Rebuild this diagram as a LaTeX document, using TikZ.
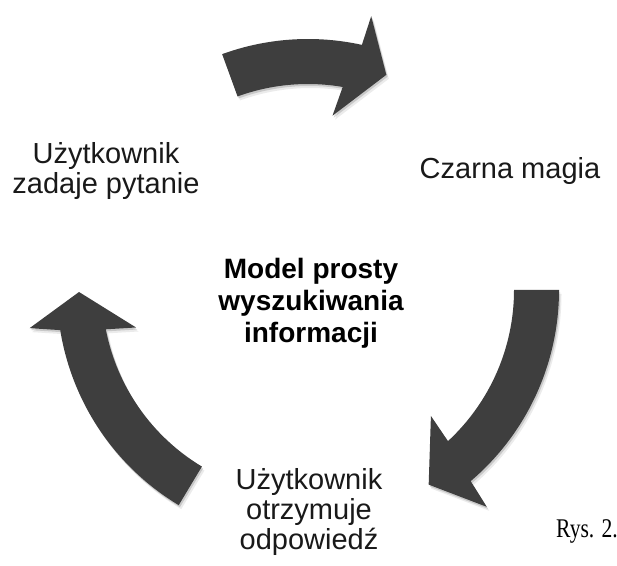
\documentclass[tikz,border=0pt]{standalone}
\usepackage{fontspec}
\setmainfont{Liberation Sans}
\newfontfamily\serifcap{Liberation Serif}
\usetikzlibrary{calc}
\definecolor{arrowgray}{RGB}{62,62,62}
\tikzset{
  cyclearrow/.style={fill=arrowgray,
    preaction={fill=black, fill opacity=0.08, transform canvas={shift={(2.5pt,-4pt)}}},
    preaction={fill=black, fill opacity=0.15, transform canvas={shift={(1.2pt,-2pt)}}}},
  steplabel/.style={font=\fontsize{29}{30}\selectfont, align=center, inner sep=0pt, text=black!90},
  centerlabel/.style={font=\fontsize{28}{32}\selectfont\bfseries, align=center, inner sep=0pt},
  caption/.style={font=\serifcap\fontsize{27}{27}\selectfont, anchor=base west, inner sep=0pt},
}
\begin{document}
\begin{tikzpicture}[x=1pt,y=1pt]
\useasboundingbox (0,0) rectangle (617,565);
\coordinate (C) at (308,275);
\begin{scope}[shift={(C)}]
  % top arrow
  \fill[cyclearrow] (110:251pt) arc[start angle=110,end angle=77.6,radius=251pt]
    -- (77:281pt) -- (70:229pt) -- (82:176pt) -- (80.3:206pt)
    arc[start angle=80.3,end angle=110,radius=206pt] -- cycle;
  % right arrow
  \fill[cyclearrow] (0:251pt) arc[start angle=0,end angle=-49.6,radius=251pt]
    -- (-50.5:281pt) -- (-58.2:229pt) -- (-45.7:176pt) -- (-47.2:206pt)
    arc[start angle=-47.2,end angle=0,radius=206pt] -- cycle;
  % left arrow
  \fill[cyclearrow] (239:251pt) arc[start angle=239,end angle=189.2,radius=251pt]
    -- (187.8:281pt) -- (180.5:229pt) -- (192.3:176pt) -- (191:206pt)
    arc[start angle=191,end angle=239,radius=206pt] -- cycle;
\end{scope}
\node[steplabel] (ask) at (106,394) {Użytkownik\\zadaje pytanie};
\node[steplabel, anchor=base] (magic) at (510,386) {Czarna magia};
\node[centerlabel] (model) at (311,262) {Model prosty\\wyszukiwania\\informacji};
\node[steplabel] (answer) at (309,53) {Użytkownik\\otrzymuje\\odpowiedź};
\node[caption] (fig) at (556,28) {\scalebox{0.8}[1]{Rys. 2.}};
\end{tikzpicture}
\end{document}
